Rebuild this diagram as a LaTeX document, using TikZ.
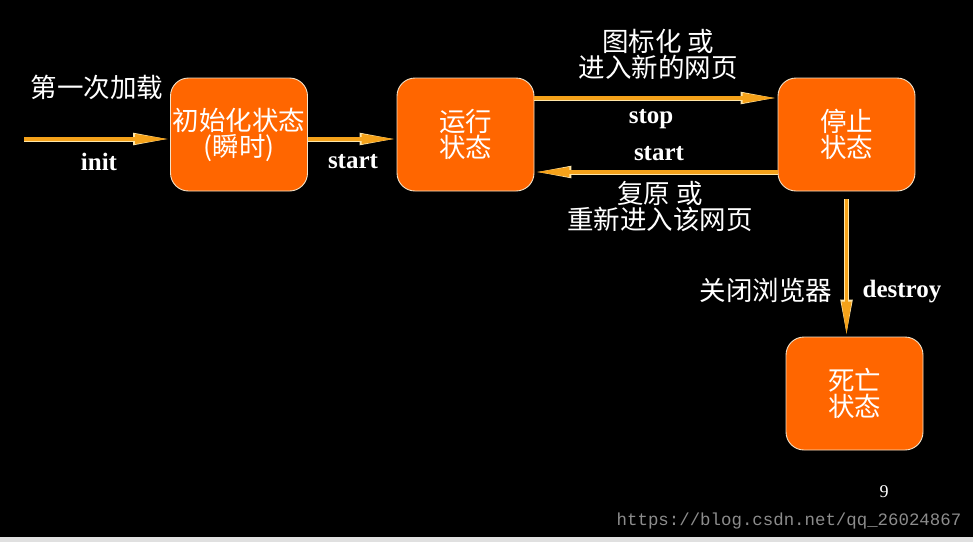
\documentclass[tikz,border=0pt]{standalone}
\usepackage{fontspec}
\setmainfont{Liberation Serif}
\newfontfamily\cjk{Noto Sans CJK SC}
\newfontfamily\urlfont{Liberation Mono}
\usetikzlibrary{arrows.meta}
\definecolor{boxor}{HTML}{FF6600}
\definecolor{boxline}{HTML}{F2E2C8}
\definecolor{arrowor}{HTML}{F5A21A}
\definecolor{arrowlt}{HTML}{FFE6A8}
\definecolor{urlgray}{HTML}{8C8C8C}
\tikzset{
  state/.style={draw=boxline, line width=0.9pt, fill=boxor, rounded corners=18pt,
    minimum width=137pt, minimum height=113pt, align=center, text=white,
    font=\cjk\fontsize{26.5}{26}\selectfont, inner sep=0pt},
  arr/.style={draw=arrowor, line width=3.6pt,
    preaction={draw=arrowlt, line width=5pt, -{Triangle[length=37pt,width=11pt,color=arrowlt]}},
    -{Triangle[length=35pt,width=9pt,color=arrowor]}},
  cjklabel/.style={text=white, font=\cjk\fontsize{26.5}{26}\selectfont, align=center, inner sep=0pt},
  enlabel/.style={text=white, font=\bfseries\fontsize{25}{26}\selectfont, inner sep=0pt}
}
\begin{document}
\begin{tikzpicture}[x=1pt,y=-1pt]
\fill[black] (0,0) rectangle (973,542);
\useasboundingbox (0,0) rectangle (973,542);
\fill[black!12] (0,537) rectangle (973,542);

\node[state] (init) at (239,134.5) {初始化状态\\(瞬时)};
\node[state] (run) at (465.5,134.5) {运行\\状态};
\node[state] (stop) at (846.5,134.5) {停止\\状态};
\node[state] (dead) at (854.5,393.5) {死亡\\状态};

\coordinate (src) at (24,139);
\draw[arr] (src) -- (src -| init.west);
\draw[arr] ([yshift=-4.5pt]init.east) -- ([yshift=-4.5pt]run.west);
\draw[arr] ([yshift=36.5pt]run.east) -- ([yshift=36.5pt]stop.west);
\draw[arr] ([yshift=-37.5pt]stop.west) -- ([yshift=-37.5pt]run.east);
\draw[arr] ([yshift=-8pt]stop.south) -- (stop.south |- dead.north);

\node[cjklabel] (l1) at (97,87) {第一次加载};
\node[enlabel] (l2) at (99,162) {init};
\node[enlabel] (l3) at (353,162) {start};
\node[cjklabel] (l4) at (658,54) {图标化 或\\进入新的网页};
\node[enlabel] (l5) at (651,119) {stop};
\node[enlabel] (l6) at (659,154) {start};
\node[cjklabel] (l7) at (660,206) {复原 或\\重新进入该网页};
\node[cjklabel] (l8) at (766,290) {关闭浏览器};
\node[enlabel] (l9) at (902,292) {destroy};
\node[text=white, font=\fontsize{18}{18}\selectfont, inner sep=0pt] (pg) at (884,492) {9};
\node[text=urlgray, font=\urlfont\fontsize{17.4}{18}\selectfont, inner sep=0pt] (url) at (789,521) {https://blog.csdn.net/qq\_26024867};
\end{tikzpicture}
\end{document}
